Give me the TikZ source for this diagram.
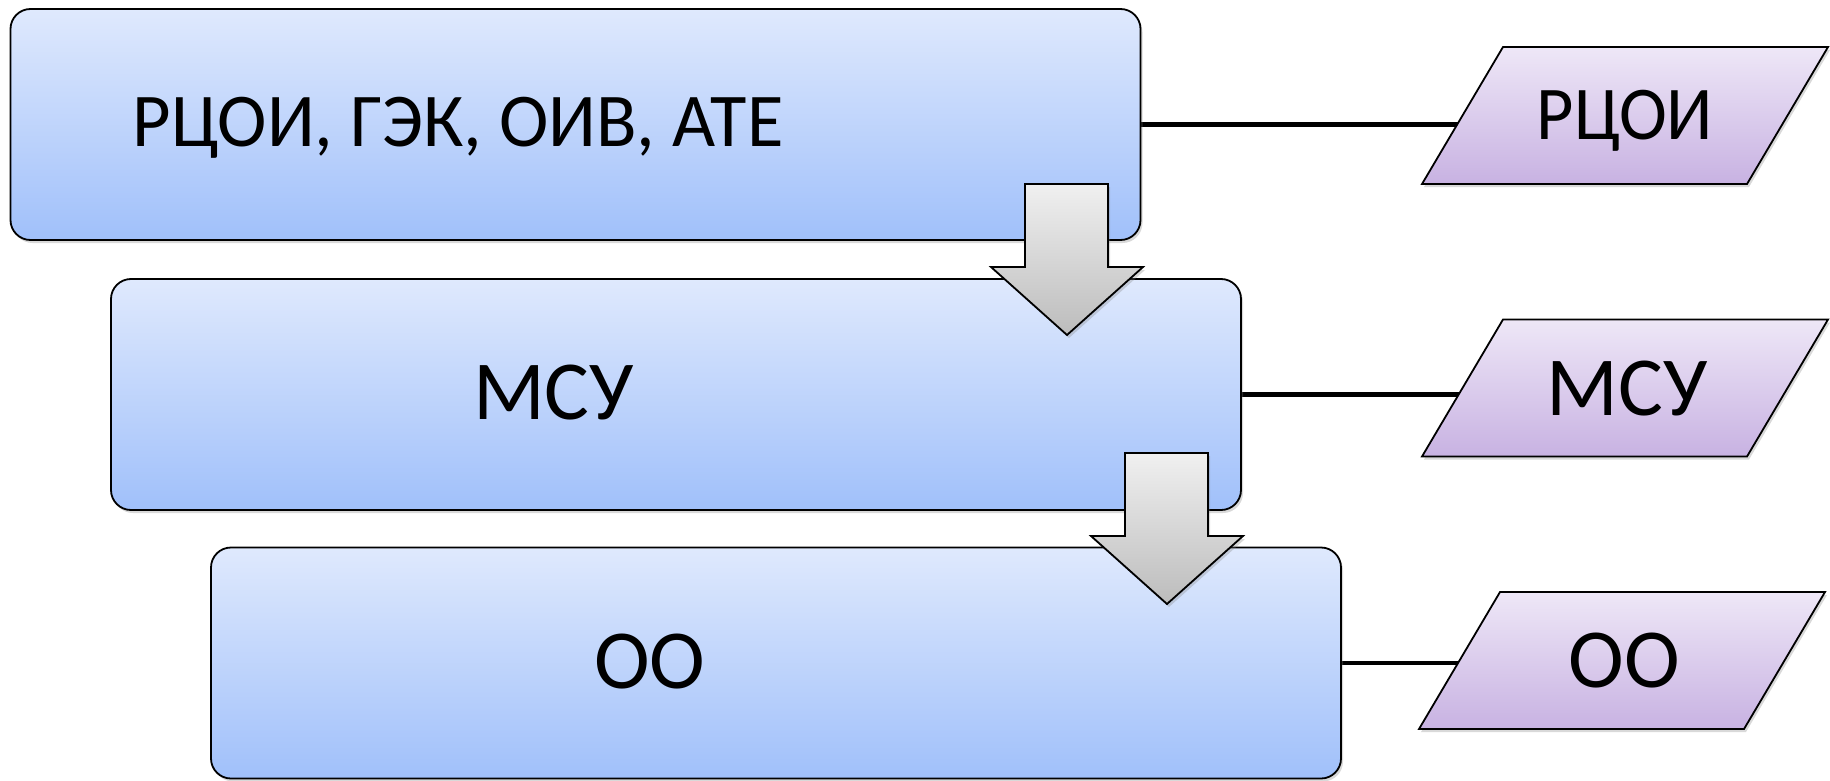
\documentclass[tikz,border=0pt]{standalone}
\usepackage{fontspec}
\setmainfont{Carlito}
\usetikzlibrary{shadows}
\definecolor{boxtop}{RGB}{223,233,253}
\definecolor{boxbottom}{RGB}{160,192,250}
\definecolor{platetop}{RGB}{238,231,247}
\definecolor{platebottom}{RGB}{200,178,226}
\definecolor{arrowtop}{RGB}{240,240,240}
\definecolor{arrowbottom}{RGB}{188,188,188}
\pgfdeclarelayer{back}
\pgfsetlayers{back,main}
% parallelogram round a centre (x,y), 137 high, slanted by 81
\newcommand\plateshape[2]{%
  \draw[PlateStyle] (#1-203, #2+68.5) -- (#1-122, #2-68.5) -- (#1+203, #2-68.5)
    -- (#1+122, #2+68.5) -- cycle;}

\begin{document}
\begin{tikzpicture}[x=0.5pt,y=-0.5pt]
  \tikzset{BoxStyle/.style = {
    shape           = rectangle,
    draw            = black,
    rounded corners = 10pt,
    line width      = 0.9pt,
    top color       = boxtop,
    bottom color    = boxbottom,
    inner sep       = 0pt,
    minimum width   = 565pt,
    minimum height  = 115.5pt,
    drop shadow     = {opacity=0.3, shadow xshift=1pt, shadow yshift=-1.5pt}
    }
  }
  \tikzset{PlateStyle/.style = {
    draw            = black,
    line width      = 0.9pt,
    top color       = platetop,
    bottom color    = platebottom,
    drop shadow     = {opacity=0.3, shadow xshift=1pt, shadow yshift=-1.5pt}
    }
  }
  \tikzset{PlateText/.style = {
    shape           = rectangle,
    inner sep       = 0pt,
    minimum width   = 163pt,
    minimum height  = 68.5pt,
    text height     = 27pt,
    text depth      = 0pt,
    font            = \fontsize{42}{50}\selectfont
    }
  }
  \tikzset{TextStyle/.style = {
    anchor          = base,
    inner sep       = 0pt,
    font            = \fontsize{42}{50}\selectfont
    }
  }
  \tikzset{LinkStyle/.style = {
    draw            = black,
    line width      = 2.4pt
    }
  }
  \tikzset{ArrowStyle/.style = {
    draw            = black,
    line width      = 0.9pt,
    top color       = arrowtop,
    bottom color    = arrowbottom,
    drop shadow     = {opacity=0.3, shadow xshift=1pt, shadow yshift=-1.5pt}
    }
  }
  \useasboundingbox (0,0) rectangle (1830,781);

  % levels
  \node[BoxStyle](b1) at (575.5, 124.5) {};
  \node[BoxStyle](b2) at (676, 394.5) {};
  \node[BoxStyle](b3) at (776, 663) {};

  \node[TextStyle, font=\fontsize{38}{46}\selectfont](t1) at (458, 147) {\scalebox{0.98}[1]{РЦОИ, ГЭК, ОИВ, АТЕ}};
  \node[TextStyle](t2) at (553.5, 419) {МСУ};
  \node[TextStyle](t3) at (650, 688) {ОО};

  % down arrows
  \foreach \dx/\dy in {0/0, 100/269}
    \draw[ArrowStyle] (1025+\dx, 184+\dy) -- (1108+\dx, 184+\dy) -- (1108+\dx, 267+\dy)
      -- (1143+\dx, 267+\dy) -- (1067+\dx, 335+\dy) -- (991+\dx, 267+\dy)
      -- (1025+\dx, 267+\dy) -- cycle;

  % outputs
  \plateshape{1625}{115.5}
  \plateshape{1625}{388}
  \plateshape{1622}{660.5}
  \node[PlateText, text height=24.5pt, font=\fontsize{38}{46}\selectfont](p1) at (1625, 115.5) {\scalebox{0.95}[1]{РЦОИ}};
  \node[PlateText](p2) at (1627, 388) {МСУ};
  \node[PlateText](p3) at (1624, 660.5) {ОО};

  \begin{pgfonlayer}{back}
    \draw[LinkStyle] (b1.east) -- (b1.east -| p1.west);
    \draw[LinkStyle] (b2.east) -- (b2.east -| p2.west);
    \draw[LinkStyle] (b3.east) -- (b3.east -| p3.west);
  \end{pgfonlayer}
\end{tikzpicture}
\end{document}
